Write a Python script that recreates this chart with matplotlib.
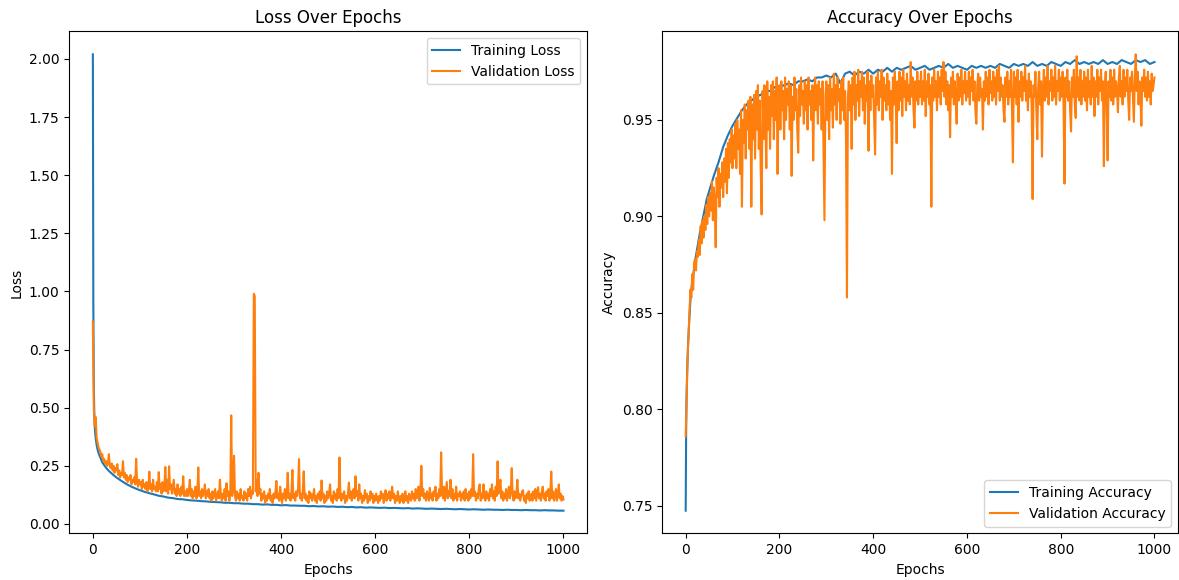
import matplotlib
matplotlib.use("Agg")
import matplotlib.pyplot as plt

# ---- data ----
train_epochs = [0, 1, 2, 3, 4, 5, 6, 8, 10, 12, 15, 18, 20, 25, 30, 35, 40, 45, 50,
                60, 70, 80, 90, 100] + list(range(110, 1001, 10))
val_epochs = list(range(0, 1001, 2))

train_loss = [
    2.02, 0.95, 0.60, 0.48, 0.42, 0.39, 0.37, 0.34, 0.32, 0.305, 0.29, 0.275,
    0.265, 0.25, 0.237, 0.226, 0.217, 0.208, 0.20, 0.186, 0.173, 0.162, 0.153, 0.145,
    0.138, 0.132, 0.127, 0.121, 0.118, 0.113, 0.111, 0.107, 0.106, 0.103,
    0.101, 0.100, 0.098, 0.097, 0.095, 0.094, 0.093, 0.091, 0.091, 0.089,
    0.089, 0.087, 0.087, 0.085, 0.085, 0.083, 0.084, 0.082, 0.082, 0.080,
    0.081, 0.079, 0.079, 0.078, 0.078, 0.076, 0.077, 0.075, 0.076, 0.074,
    0.075, 0.073, 0.074, 0.072, 0.073, 0.071, 0.072, 0.070, 0.071, 0.070,
    0.069, 0.070, 0.068, 0.069, 0.068, 0.067, 0.068, 0.066, 0.067, 0.066,
    0.065, 0.066, 0.065, 0.064, 0.065, 0.064, 0.063, 0.064, 0.063, 0.062,
    0.063, 0.062, 0.061, 0.062, 0.061, 0.061, 0.060, 0.061, 0.060, 0.060,
    0.059, 0.060, 0.059, 0.059, 0.058, 0.059, 0.058, 0.058, 0.057, 0.057,
]

val_loss = [
    0.87,
    0.50, 0.42, 0.46, 0.37, 0.35, 0.33, 0.32, 0.31, 0.29, 0.30, 0.27, 0.28, 0.26,
    0.27, 0.25, 0.26, 0.30, 0.25, 0.24, 0.26, 0.23, 0.25, 0.22, 0.24, 0.23,
    0.257, 0.21, 0.23, 0.20, 0.22, 0.21, 0.27, 0.20, 0.22, 0.19, 0.21, 0.18, 0.20,
    0.19, 0.21, 0.17, 0.19, 0.18, 0.20, 0.17, 0.28, 0.18, 0.16, 0.19, 0.17,
    0.18, 0.15, 0.19, 0.16, 0.17, 0.15, 0.18, 0.14, 0.16, 0.225, 0.15, 0.17, 0.14,
    0.19, 0.15, 0.16, 0.14, 0.18, 0.14, 0.223, 0.15, 0.17, 0.13, 0.18, 0.14,
    0.16, 0.245, 0.14, 0.19, 0.13, 0.248, 0.15, 0.17, 0.13, 0.16, 0.19, 0.13, 0.15,
    0.12, 0.17, 0.13, 0.15, 0.12, 0.16, 0.13, 0.205, 0.12, 0.14, 0.12, 0.15,
    0.12, 0.14, 0.19, 0.12, 0.15, 0.11, 0.14, 0.12, 0.16, 0.11, 0.13, 0.243, 0.12,
    0.14, 0.11, 0.15, 0.12, 0.13, 0.17, 0.11, 0.14, 0.12, 0.15, 0.11, 0.13,
    0.10, 0.14, 0.11, 0.13, 0.15, 0.10, 0.12, 0.14, 0.11, 0.19, 0.12, 0.10, 0.13,
    0.11, 0.15, 0.10, 0.175, 0.12, 0.14, 0.10, 0.13, 0.467, 0.12, 0.15, 0.293,
    0.12, 0.10, 0.14, 0.11, 0.13, 0.10, 0.15, 0.11, 0.12, 0.10, 0.14, 0.11, 0.13,
    0.10, 0.15, 0.12, 0.16, 0.11, 0.14, 0.13, 0.99, 0.98, 0.14, 0.19, 0.12,
    0.22, 0.13, 0.15, 0.10, 0.13, 0.11, 0.14, 0.09, 0.12, 0.10, 0.13, 0.11, 0.15,
    0.10, 0.12, 0.09, 0.13, 0.11, 0.14, 0.185, 0.11, 0.13, 0.10, 0.16, 0.12,
    0.09, 0.13, 0.11, 0.15, 0.10, 0.12, 0.22, 0.11, 0.13, 0.10, 0.14, 0.232, 0.11,
    0.13, 0.10, 0.14, 0.12, 0.15, 0.279, 0.11, 0.13, 0.10, 0.14, 0.226, 0.11,
    0.13, 0.10, 0.12, 0.09, 0.14, 0.11, 0.13, 0.10, 0.12, 0.15, 0.10, 0.12, 0.09,
    0.13, 0.11, 0.14, 0.10, 0.187, 0.11, 0.13, 0.09, 0.12, 0.10, 0.14, 0.11,
    0.13, 0.17, 0.10, 0.12, 0.09, 0.14, 0.11, 0.13, 0.10, 0.15, 0.11, 0.286, 0.12,
    0.10, 0.13, 0.11, 0.14, 0.09, 0.12, 0.10, 0.13, 0.178, 0.11, 0.14, 0.10,
    0.12, 0.15, 0.11, 0.205, 0.12, 0.14, 0.10, 0.17, 0.11, 0.13, 0.09, 0.12, 0.10,
    0.145, 0.11, 0.13, 0.09, 0.12, 0.10, 0.14, 0.11, 0.13, 0.09, 0.12, 0.10,
    0.13, 0.11, 0.09, 0.12, 0.10, 0.14, 0.11, 0.13, 0.09, 0.12, 0.145, 0.10, 0.13,
    0.11, 0.14, 0.10, 0.12, 0.16, 0.11, 0.13, 0.09, 0.12, 0.10, 0.14, 0.11,
    0.09, 0.12, 0.10, 0.13, 0.09, 0.11, 0.14, 0.10, 0.12, 0.09, 0.13, 0.11, 0.10,
    0.14, 0.11, 0.13, 0.10, 0.15, 0.11, 0.13, 0.16, 0.10, 0.14, 0.25, 0.12,
    0.15, 0.11, 0.13, 0.10, 0.14, 0.12, 0.10, 0.155, 0.11, 0.13, 0.10, 0.14, 0.12,
    0.16, 0.10, 0.13, 0.11, 0.15, 0.12, 0.308, 0.13, 0.11, 0.16, 0.10, 0.14,
    0.18, 0.11, 0.14, 0.12, 0.19, 0.11, 0.15, 0.10, 0.13, 0.11, 0.16, 0.10, 0.13,
    0.12, 0.14, 0.10, 0.13, 0.11, 0.14, 0.10, 0.15, 0.11, 0.13, 0.10, 0.14,
    0.11, 0.15, 0.12, 0.30, 0.12, 0.14, 0.10, 0.13, 0.11, 0.15, 0.17, 0.10, 0.13,
    0.11, 0.17, 0.12, 0.10, 0.14, 0.11, 0.13, 0.10, 0.15, 0.12, 0.17, 0.11,
    0.14, 0.10, 0.16, 0.12, 0.269, 0.13, 0.15, 0.19, 0.11, 0.14, 0.10, 0.13, 0.11,
    0.15, 0.10, 0.13, 0.16, 0.11, 0.14, 0.24, 0.12, 0.10, 0.14, 0.11, 0.13,
    0.19, 0.11, 0.13, 0.10, 0.12, 0.14, 0.145, 0.10, 0.12, 0.09, 0.13, 0.11, 0.14,
    0.10, 0.12, 0.13, 0.10, 0.14, 0.11, 0.15, 0.10, 0.13, 0.158, 0.11, 0.13,
    0.10, 0.14, 0.16, 0.11, 0.13, 0.10, 0.14, 0.12, 0.15, 0.10, 0.13, 0.225, 0.11,
    0.14, 0.10, 0.12, 0.15, 0.10, 0.13, 0.17, 0.11, 0.13, 0.10, 0.12, 0.105,
]

train_acc = [
    0.7475, 0.790, 0.808, 0.818, 0.826, 0.833, 0.838, 0.848, 0.856, 0.862, 0.868,
    0.873, 0.877, 0.884, 0.891, 0.897, 0.903, 0.909, 0.913, 0.921, 0.928, 0.936,
    0.942, 0.947,
    0.951, 0.955, 0.958, 0.960, 0.962, 0.963, 0.965, 0.965, 0.967, 0.967,
    0.968, 0.969, 0.968, 0.970, 0.970, 0.971, 0.970, 0.972, 0.972, 0.973,
    0.972, 0.974, 0.969, 0.974, 0.975, 0.973, 0.975, 0.974, 0.976, 0.974,
    0.976, 0.975, 0.977, 0.975, 0.977, 0.976, 0.977, 0.978, 0.976, 0.977,
    0.978, 0.976, 0.977, 0.978, 0.977, 0.979, 0.977, 0.978, 0.977, 0.976,
    0.978, 0.977, 0.978, 0.977, 0.978, 0.977, 0.979, 0.978, 0.977, 0.979,
    0.978, 0.979, 0.978, 0.980, 0.978, 0.979, 0.978, 0.980, 0.979, 0.978,
    0.980, 0.979, 0.981, 0.979, 0.980, 0.979, 0.980, 0.979, 0.981, 0.979,
    0.980, 0.979, 0.981, 0.980, 0.979, 0.981, 0.980, 0.981, 0.979, 0.980,
]

val_acc = [
    0.786,
    0.805, 0.826, 0.838, 0.850, 0.862, 0.858, 0.870, 0.862, 0.876, 0.878, 0.872,
    0.882, 0.879, 0.888, 0.880, 0.895, 0.886, 0.898, 0.889, 0.900, 0.893, 0.906,
    0.896, 0.910, 0.900,
    0.912, 0.903, 0.918, 0.898, 0.915, 0.906, 0.884, 0.920, 0.910, 0.925, 0.905,
    0.922, 0.915, 0.928, 0.910, 0.930, 0.918, 0.935, 0.912, 0.938, 0.920, 0.940,
    0.928, 0.945, 0.925,
    0.942, 0.930, 0.948, 0.925, 0.950, 0.935, 0.945, 0.922, 0.955, 0.905, 0.950,
    0.938, 0.958, 0.930, 0.955, 0.945, 0.960, 0.935, 0.962, 0.905, 0.958, 0.940,
    0.963, 0.930, 0.965,
    0.945, 0.968, 0.935, 0.960, 0.925, 0.901, 0.965, 0.940, 0.968, 0.950, 0.925,
    0.970, 0.945, 0.962, 0.935, 0.968, 0.952, 0.970, 0.940, 0.965, 0.950, 0.972,
    0.922, 0.960, 0.968,
    0.945, 0.970, 0.955, 0.965, 0.940, 0.972, 0.950, 0.966, 0.958, 0.970, 0.945,
    0.968, 0.921, 0.962, 0.950, 0.972, 0.955, 0.966, 0.945, 0.933, 0.968, 0.952,
    0.972, 0.958, 0.965,
    0.948, 0.970, 0.955, 0.968, 0.945, 0.972, 0.958, 0.965, 0.950, 0.968, 0.929,
    0.962, 0.972, 0.955, 0.968, 0.948, 0.970, 0.958, 0.966, 0.945, 0.970, 0.935,
    0.898, 0.962, 0.970,
    0.950, 0.968, 0.940, 0.972, 0.955, 0.966, 0.946, 0.974, 0.958, 0.968, 0.950,
    0.972, 0.960, 0.966, 0.948, 0.970, 0.955, 0.972, 0.950, 0.965, 0.940, 0.858,
    0.962, 0.970, 0.955,
    0.968, 0.935, 0.972, 0.958, 0.975, 0.950, 0.968, 0.960, 0.976, 0.952, 0.970,
    0.962, 0.975, 0.955, 0.972, 0.948, 0.968, 0.960, 0.975, 0.934, 0.970, 0.955,
    0.973, 0.962, 0.968,
    0.950, 0.932, 0.972, 0.958, 0.975, 0.955, 0.970, 0.962, 0.976, 0.950, 0.972,
    0.960, 0.968, 0.955, 0.974, 0.958, 0.970, 0.950, 0.965, 0.922, 0.972, 0.958,
    0.975, 0.962, 0.938,
    0.970, 0.955, 0.975, 0.960, 0.972, 0.952, 0.976, 0.962, 0.970, 0.955, 0.974,
    0.960, 0.968, 0.958, 0.980, 0.962, 0.972, 0.955, 0.946, 0.970, 0.960, 0.975,
    0.958, 0.970, 0.962,
    0.975, 0.958, 0.970, 0.960, 0.976, 0.952, 0.970, 0.962, 0.974, 0.958, 0.968,
    0.905, 0.972, 0.960, 0.976, 0.962, 0.970, 0.955, 0.975, 0.962, 0.972, 0.958,
    0.976, 0.965, 0.980,
    0.962, 0.975, 0.958, 0.970, 0.955, 0.968, 0.941, 0.972, 0.962, 0.975, 0.958,
    0.970, 0.962, 0.948, 0.974, 0.960, 0.972, 0.962, 0.976, 0.958, 0.970, 0.964,
    0.975, 0.960, 0.970,
    0.962, 0.975, 0.958, 0.972, 0.965, 0.976, 0.960, 0.970, 0.955, 0.948, 0.968,
    0.974, 0.960, 0.972, 0.962, 0.966, 0.945, 0.970, 0.960, 0.975, 0.962, 0.972,
    0.958, 0.976, 0.964,
    0.970, 0.960, 0.975, 0.962, 0.972, 0.958, 0.976, 0.965, 0.978, 0.960, 0.972,
    0.962, 0.968, 0.955, 0.949, 0.972, 0.962, 0.975, 0.958, 0.970, 0.962, 0.976,
    0.955, 0.928, 0.975,
    0.962, 0.972, 0.958, 0.976, 0.949, 0.970, 0.962, 0.975, 0.960, 0.972, 0.965,
    0.978, 0.960, 0.970, 0.955, 0.974, 0.962, 0.970, 0.958, 0.909, 0.968, 0.962,
    0.975, 0.955, 0.940,
    0.968, 0.975, 0.958, 0.970, 0.931, 0.965, 0.976, 0.960, 0.972, 0.962, 0.978,
    0.958, 0.970, 0.965, 0.976, 0.960, 0.972, 0.962, 0.978, 0.958, 0.970, 0.965,
    0.976, 0.960, 0.972,
    0.962, 0.975, 0.958, 0.917, 0.972, 0.962, 0.976, 0.960, 0.970, 0.955, 0.944,
    0.972, 0.962, 0.976, 0.958, 0.951, 0.983, 0.962, 0.972, 0.960, 0.976, 0.958,
    0.970, 0.962, 0.975,
    0.960, 0.972, 0.955, 0.976, 0.962, 0.970, 0.958, 0.978, 0.962, 0.972, 0.952,
    0.970, 0.962, 0.976, 0.958, 0.972, 0.965, 0.976, 0.960, 0.970, 0.926, 0.968,
    0.975, 0.958, 0.929,
    0.970, 0.962, 0.976, 0.960, 0.972, 0.958, 0.976, 0.962, 0.970, 0.965, 0.954,
    0.972, 0.978, 0.962, 0.970, 0.958, 0.976, 0.962, 0.972, 0.965, 0.976, 0.960,
    0.950, 0.972, 0.965,
    0.975, 0.962, 0.949, 0.972, 0.984, 0.965, 0.975, 0.958, 0.970, 0.962, 0.947,
    0.972, 0.965, 0.976, 0.962, 0.972, 0.960, 0.975, 0.962, 0.970, 0.958, 0.974,
    0.965, 0.968, 0.972,
]

# ---- figure ----
fig = plt.figure(figsize=(11.79, 5.80), dpi=100)
ax1 = fig.add_axes([0.0588, 0.0802, 0.4391, 0.8655])
ax2 = fig.add_axes([0.5617, 0.0802, 0.4374, 0.8655])

ax1.plot(train_epochs, train_loss, label="Training Loss")
ax1.plot(val_epochs, val_loss, label="Validation Loss")
ax1.set_title("Loss Over Epochs")
ax1.set_xlabel("Epochs")
ax1.set_ylabel("Loss")
ax1.legend()

ax2.plot(train_epochs, train_acc, label="Training Accuracy")
ax2.plot(val_epochs, val_acc, label="Validation Accuracy")
ax2.set_title("Accuracy Over Epochs")
ax2.set_xlabel("Epochs")
ax2.set_ylabel("Accuracy")
ax2.legend()

fig.savefig("out.png", dpi=100)
